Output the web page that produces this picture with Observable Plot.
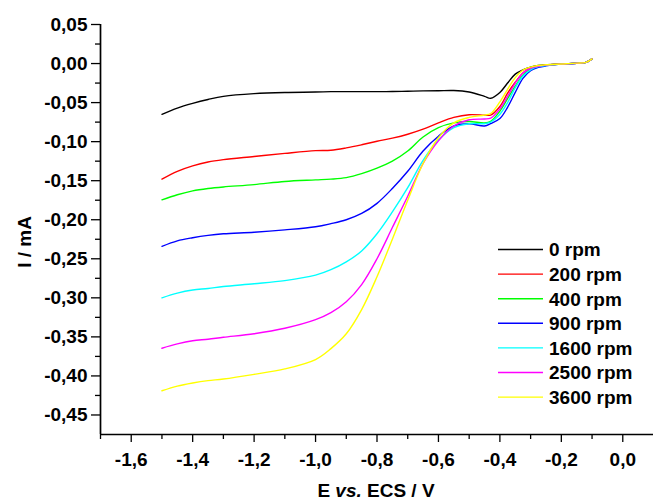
<!DOCTYPE html>
<html>
<head>
<meta charset="utf-8">
<script src="https://cdn.jsdelivr.net/npm/d3@7"></script>
<script src="https://cdn.jsdelivr.net/npm/@observablehq/plot@0.6"></script>
<style>
  html, body { margin: 0; padding: 0; background: #fff; }
  #chart { position: relative; width: 653px; height: 500px; }
</style>
</head>
<body>
<div id="chart"></div>
<script>
// Potential E (V vs. ECS)
const E = [-1.5,-1.45,-1.4,-1.35,-1.3,-1.2,-1.1,-1.0,-0.95,-0.9,-0.85,-0.8,-0.75,-0.7,-0.65,-0.6,-0.55,-0.5,-0.45,-0.43,-0.4,-0.375,-0.35,-0.325,-0.3,-0.275,-0.25,-0.2,-0.15,-0.12,-0.1];

// Current I (mA) per rotation rate
const I_0    = [-0.065,-0.057,-0.051,-0.046,-0.042,-0.0385,-0.037,-0.0365,-0.036,-0.036,-0.036,-0.036,-0.0358,-0.0355,-0.035,-0.0348,-0.0345,-0.0365,-0.042,-0.0445,-0.037,-0.025,-0.0135,-0.008,-0.0045,-0.0025,-0.0015,-0.0005,0.0005,0.0015,0.006];
const I_200  = [-0.148,-0.138,-0.131,-0.126,-0.123,-0.119,-0.115,-0.1115,-0.111,-0.108,-0.104,-0.0995,-0.0955,-0.0905,-0.084,-0.076,-0.069,-0.0655,-0.066,-0.066,-0.055,-0.038,-0.024,-0.012,-0.006,-0.0035,-0.002,-0.0007,0.0003,0.0015,0.006];
const I_400  = [-0.1745,-0.168,-0.163,-0.160,-0.158,-0.155,-0.151,-0.149,-0.148,-0.146,-0.141,-0.134,-0.125,-0.112,-0.094,-0.082,-0.076,-0.0742,-0.076,-0.074,-0.061,-0.045,-0.029,-0.015,-0.007,-0.004,-0.002,-0.0007,0.0003,0.0015,0.006];
const I_900  = [-0.234,-0.227,-0.223,-0.220,-0.218,-0.216,-0.213,-0.209,-0.205,-0.200,-0.192,-0.179,-0.160,-0.138,-0.112,-0.093,-0.080,-0.077,-0.080,-0.077,-0.0705,-0.056,-0.037,-0.019,-0.009,-0.005,-0.003,-0.0008,0.0003,0.0015,0.006];
const I_1600 = [-0.300,-0.294,-0.290,-0.288,-0.2855,-0.282,-0.278,-0.271,-0.264,-0.254,-0.240,-0.218,-0.190,-0.159,-0.124,-0.098,-0.082,-0.077,-0.077,-0.075,-0.065,-0.050,-0.031,-0.016,-0.008,-0.004,-0.0025,-0.0007,0.0003,0.0015,0.006];
const I_2500 = [-0.3645,-0.359,-0.355,-0.353,-0.3505,-0.346,-0.339,-0.328,-0.319,-0.305,-0.283,-0.250,-0.210,-0.170,-0.128,-0.099,-0.080,-0.072,-0.071,-0.070,-0.058,-0.042,-0.025,-0.012,-0.006,-0.0035,-0.002,-0.0007,0.0003,0.0015,0.006];
const I_3600 = [-0.419,-0.413,-0.409,-0.406,-0.404,-0.398,-0.391,-0.379,-0.365,-0.346,-0.315,-0.273,-0.225,-0.175,-0.128,-0.095,-0.076,-0.069,-0.066,-0.064,-0.049,-0.033,-0.018,-0.0085,-0.0045,-0.0025,-0.0015,-0.0005,0.0005,0.0015,0.006];

const labels = ["0 rpm","200 rpm","400 rpm","900 rpm","1600 rpm","2500 rpm","3600 rpm"];
const seriesValues = [I_0, I_200, I_400, I_900, I_1600, I_2500, I_3600];
const colors = ["#000000","#ff0000","#00ff00","#0000ff","#00ffff","#ff00ff","#ffff00"];

// Axis ticks
const xMajor = [-1.6,-1.4,-1.2,-1.0,-0.8,-0.6,-0.4,-0.2,0.0];
const xMinor = [-1.7,-1.5,-1.3,-1.1,-0.9,-0.7,-0.5,-0.3,-0.1];
const yMajor = [-0.45,-0.40,-0.35,-0.30,-0.25,-0.20,-0.15,-0.10,-0.05,0.00,0.05];
const yMinor = [-0.425,-0.375,-0.325,-0.275,-0.225,-0.175,-0.125,-0.075,-0.025,0.025];
const xDomain = [-1.7, 0.1];
const yDomain = [-0.475, 0.05];

const xLabel = ["E ", "vs.", " ECS / V"];
const yLabel = "I / mA";

const data = labels.flatMap((lab, k) => E.map((e, i) => ({E: e, I: seriesValues[k][i], rpm: lab})));

const fmt = p => v => d3.format(p)(v).replace("\u2212", "-").replace(".", ",");
const fx = fmt(".1f"), fy = fmt(".2f");

const FONT = "'Liberation Sans', Arial, Helvetica, sans-serif";
const FS = "19px";

const chart = Plot.plot({
  width: 653,
  height: 500,
  marginLeft: 100,
  marginRight: 0,
  marginTop: 24,
  marginBottom: 66,
  x: {domain: xDomain},
  y: {domain: yDomain},
  color: {domain: labels, range: colors},
  style: {fontFamily: FONT, fontSize: FS, fontWeight: "bold", color: "#000", background: "#fff", overflow: "visible"},
  marks: [
    Plot.axisX({ticks: xMinor, tickSize: 5, tickFormat: () => "", label: null, strokeWidth: 1.3}),
    Plot.axisX({ticks: xMajor, tickSize: 8, tickPadding: 10, tickFormat: fx, label: null, strokeWidth: 1.3}),
    Plot.axisY({ticks: yMinor, tickSize: 5, tickFormat: () => "", label: null, strokeWidth: 1.3}),
    Plot.axisY({ticks: yMajor, tickSize: 9, tickPadding: 4, tickFormat: fy, label: null, strokeWidth: 1.3}),
    Plot.ruleY([yDomain[0]], {stroke: "#000", strokeWidth: 1.7}),
    Plot.ruleX([xDomain[0]], {stroke: "#000", strokeWidth: 1.7}),
    Plot.line(data, {x: "E", y: "I", z: "rpm", stroke: "rpm", strokeWidth: 1.4, curve: "catmull-rom"})
  ]
});

document.getElementById("chart").appendChild(chart);

const svg = d3.select(chart);
// x axis title
const xt = svg.append("text")
  .attr("x", 376).attr("y", 497)
  .attr("text-anchor", "middle")
  .style("font-family", FONT).style("font-size", FS).style("font-weight", "bold").attr("fill", "#000");
xt.append("tspan").text(xLabel[0]);
xt.append("tspan").style("font-style", "italic").text(xLabel[1]);
xt.append("tspan").text(xLabel[2]);

// y axis title
svg.append("text")
  .attr("transform", "translate(31,242) rotate(-90)")
  .attr("text-anchor", "middle")
  .style("font-family", FONT).style("font-size", FS).style("font-weight", "bold").attr("fill", "#000")
  .text(yLabel);

// legend
const lg = svg.append("g");
labels.forEach((lab, i) => {
  const y = 249.5 + i * 24.6;
  lg.append("line").attr("x1", 498).attr("x2", 543).attr("y1", y).attr("y2", y)
    .attr("stroke", colors[i]).attr("stroke-width", 1.4);
  lg.append("text").attr("x", 549).attr("y", y).attr("dy", "0.36em")
    .attr("text-anchor", "start")
    .style("font-family", FONT).style("font-size", FS).style("font-weight", "bold").attr("fill", "#000")
    .text(lab);
});
</script>
</body>
</html>
